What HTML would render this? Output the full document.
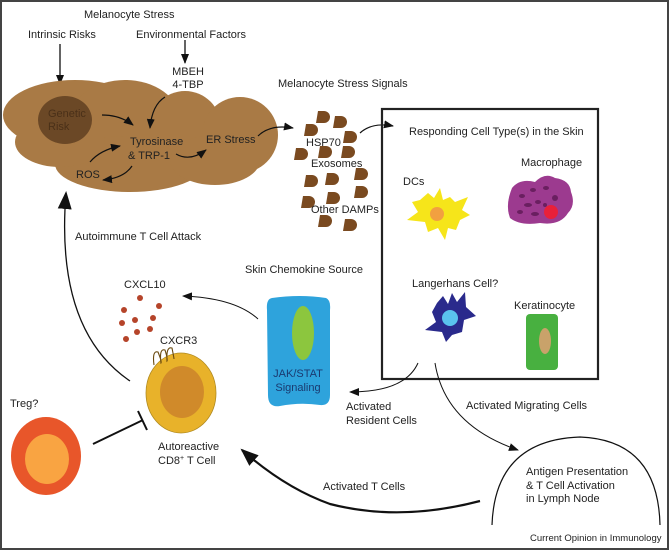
<!DOCTYPE html>
<html><head><meta charset="utf-8"><style>
html,body{margin:0;padding:0;background:#fff}
svg{display:block}
text{font-family:"Liberation Sans",sans-serif;font-size:11px;fill:#222}
</style></head><body>
<svg width="670" height="551" viewBox="0 0 670 551" xmlns="http://www.w3.org/2000/svg">
<defs>
<marker id="ah" markerWidth="10" markerHeight="8" refX="9" refY="4" orient="auto" markerUnits="userSpaceOnUse"><path d="M0,0 L10,4 L0,8 Z" fill="#111"/></marker>
<marker id="ahb" markerWidth="18" markerHeight="14" refX="16" refY="7" orient="auto" markerUnits="userSpaceOnUse"><path d="M0,0 L18,7 L0,14 Z" fill="#111"/></marker>
</defs>
<rect x="1" y="1" width="667" height="548" fill="#fff" stroke="#444" stroke-width="2"/>

<text x="84" y="18">Melanocyte Stress</text>
<text x="28" y="38">Intrinsic Risks</text>
<text x="136" y="38">Environmental Factors</text>
<line x1="60" y1="44" x2="60" y2="84" stroke="#111" stroke-width="1.3" marker-end="url(#ah)"/>
<line x1="185" y1="40" x2="185" y2="63" stroke="#111" stroke-width="1.3" marker-end="url(#ah)"/>
<text x="188" y="75" text-anchor="middle">MBEH</text>
<text x="188" y="88" text-anchor="middle">4-TBP</text>

<!-- cloud -->
<g fill="#a97a45">
<ellipse cx="75" cy="115" rx="72" ry="35"/>
<ellipse cx="125" cy="120" rx="55" ry="40"/>
<ellipse cx="185" cy="127" rx="36" ry="36"/>
<ellipse cx="240" cy="135" rx="38" ry="38"/>
<ellipse cx="130" cy="164" rx="75" ry="28"/>
<ellipse cx="215" cy="160" rx="45" ry="25"/>
<ellipse cx="60" cy="142" rx="45" ry="25"/>
</g>
<ellipse cx="65" cy="120" rx="27" ry="24" fill="#6b4826"/>
<text x="48" y="117" style="fill:#4a3018">Genetic</text>
<text x="48" y="130" style="fill:#4a3018">Risk</text>
<text x="130" y="145">Tyrosinase</text>
<text x="128" y="159">&amp; TRP-1</text>
<text x="206" y="143">ER Stress</text>
<text x="76" y="178">ROS</text>
<path d="M102,115 Q120,115 133,125" fill="none" stroke="#111" stroke-width="1.2" marker-end="url(#ah)"/>
<path d="M165,97 Q152,105 150,128" fill="none" stroke="#111" stroke-width="1.2" marker-end="url(#ah)"/>
<path d="M90,162 Q100,150 120,146" fill="none" stroke="#111" stroke-width="1.2" marker-end="url(#ah)"/>
<path d="M132,166 Q124,178 103,180" fill="none" stroke="#111" stroke-width="1.2" marker-end="url(#ah)"/>
<path d="M176,154 Q190,162 206,150" fill="none" stroke="#111" stroke-width="1.2" marker-end="url(#ah)"/>
<path d="M258,136 Q270,124 293,128" fill="none" stroke="#111" stroke-width="1.2" marker-end="url(#ah)"/>

<text x="278" y="87">Melanocyte Stress Signals</text>
<g fill="#7a4a20">
<path d="M318,111 h6 a6,6 0 0 1 0,12 h-8 z"/>
<path d="M335,116 h6 a6,6 0 0 1 0,12 h-8 z"/>
<path d="M306,124 h6 a6,6 0 0 1 0,12 h-8 z"/>
<path d="M345,131 h6 a6,6 0 0 1 0,12 h-8 z"/>
<path d="M296,148 h6 a6,6 0 0 1 0,12 h-8 z"/>
<path d="M320,146 h6 a6,6 0 0 1 0,12 h-8 z"/>
<path d="M343,146 h6 a6,6 0 0 1 0,12 h-8 z"/>
<path d="M356,168 h6 a6,6 0 0 1 0,12 h-8 z"/>
<path d="M306,175 h6 a6,6 0 0 1 0,12 h-8 z"/>
<path d="M327,173 h6 a6,6 0 0 1 0,12 h-8 z"/>
<path d="M356,186 h6 a6,6 0 0 1 0,12 h-8 z"/>
<path d="M303,196 h6 a6,6 0 0 1 0,12 h-8 z"/>
<path d="M328,192 h6 a6,6 0 0 1 0,12 h-8 z"/>
<path d="M320,215 h6 a6,6 0 0 1 0,12 h-8 z"/>
<path d="M345,219 h6 a6,6 0 0 1 0,12 h-8 z"/>
</g>
<text x="306" y="146">HSP70</text>
<text x="311" y="167">Exosomes</text>
<text x="311" y="213">Other DAMPs</text>
<path d="M360,133 Q372,122 393,126" fill="none" stroke="#111" stroke-width="1.2" marker-end="url(#ah)"/>

<!-- box -->
<rect x="382" y="109" width="216" height="270" fill="none" stroke="#222" stroke-width="2.2"/>
<text x="409" y="135">Responding Cell Type(s) in the Skin</text>
<text x="403" y="185">DCs</text>
<path d="M420,200 L428,193 L434,198 L440,188 L443,200 L450,197 L455,202 L468,197 L462,210 L470,215 L460,220 L456,230 L448,228 L445,240 L438,228 L428,232 L425,222 L407,220 L418,212 L412,202 Z" fill="#f6e51a"/>
<circle cx="437" cy="214" r="7" fill="#f2a040"/>
<text x="521" y="166">Macrophage</text>
<path d="M512,188 Q520,178 535,182 Q545,172 555,178 Q570,180 571,192 Q576,205 568,213 Q560,226 540,223 Q520,226 510,218 Q505,205 512,188 Z" fill="#9c3a8f"/>
<g fill="#6a1f60"><ellipse cx="522" cy="196" rx="3" ry="2"/><ellipse cx="533" cy="190" rx="3" ry="2"/><ellipse cx="546" cy="188" rx="3" ry="2"/><ellipse cx="528" cy="205" rx="4" ry="2"/><ellipse cx="538" cy="202" rx="3" ry="2"/><ellipse cx="555" cy="198" rx="3" ry="3"/><ellipse cx="520" cy="212" rx="3" ry="2"/><ellipse cx="535" cy="214" rx="4" ry="2"/><ellipse cx="545" cy="205" rx="2" ry="2"/></g>
<circle cx="551" cy="212" r="7" fill="#e8203a"/>
<text x="412" y="287">Langerhans Cell?</text>
<path d="M437,303 L443,296 L448,304 L452,293 L457,302 L465,292 L466,307 L476,316 L464,320 L462,332 L452,335 L446,342 L442,332 L425,330 L436,322 L432,312 Z" fill="#2a2a8c"/>
<circle cx="450" cy="318" r="8" fill="#5ac3ee"/>
<text x="514" y="309">Keratinocyte</text>
<rect x="526" y="314" width="32" height="56" rx="4" fill="#48b040"/>
<ellipse cx="545" cy="341" rx="6" ry="13" fill="#c9a26a"/>

<!-- JAK/STAT -->
<text x="245" y="273">Skin Chemokine Source</text>
<path d="M272,298 Q300,294 326,298 Q331,300 330,310 L330,395 Q330,406 320,405 Q300,402 280,406 Q268,408 268,395 L267,310 Q266,299 272,298 Z" fill="#2ea3dc"/>
<ellipse cx="303" cy="333" rx="11" ry="27" fill="#8cc63e"/>
<text x="298" y="377" text-anchor="middle" style="fill:#1a3a70">JAK/STAT</text>
<text x="298" y="391" text-anchor="middle" style="fill:#1a3a70">Signaling</text>
<path d="M258,319 Q235,298 183,296" fill="none" stroke="#111" stroke-width="1" marker-end="url(#ah)"/>

<text x="124" y="288">CXCL10</text>
<g fill="#b5442a"><circle cx="140" cy="298" r="3"/><circle cx="159" cy="306" r="3"/><circle cx="124" cy="310" r="3"/><circle cx="135" cy="320" r="3"/><circle cx="153" cy="318" r="3"/><circle cx="122" cy="323" r="3"/><circle cx="137" cy="332" r="3"/><circle cx="150" cy="329" r="3"/><circle cx="126" cy="339" r="3"/></g>
<text x="160" y="344">CXCR3</text>
<ellipse cx="181" cy="393" rx="35" ry="40" fill="#e8b22a" stroke="#b08a20" stroke-width="0.8"/>
<ellipse cx="182" cy="392" rx="22" ry="26" fill="#d08a2a"/>
<path d="M154,365 Q152,350 158,352 Q162,362 161,363 Q159,348 165,350 Q168,360 167,361 Q166,346 172,348 Q174,358 174,359" fill="none" stroke="#6a4a10" stroke-width="1.1"/>

<path d="M130,381 Q55,330 66,193" fill="none" stroke="#111" stroke-width="1.3" marker-end="url(#ahb)"/>
<text x="75" y="240">Autoimmune T Cell Attack</text>

<text x="10" y="407">Treg?</text>
<ellipse cx="46" cy="456" rx="35" ry="39" fill="#e8562a"/>
<ellipse cx="47" cy="459" rx="22" ry="25" fill="#f9a442"/>
<line x1="93" y1="444" x2="143" y2="420" stroke="#111" stroke-width="2"/>
<line x1="138" y1="411" x2="147" y2="430" stroke="#111" stroke-width="2"/>
<text x="158" y="450">Autoreactive</text>
<text x="158" y="464">CD8<tspan dy="-4" style="font-size:7px">+</tspan><tspan dy="4">  T Cell</tspan></text>

<path d="M418,363 Q405,392 350,392" fill="none" stroke="#111" stroke-width="1" marker-end="url(#ah)"/>
<text x="346" y="410">Activated</text>
<text x="346" y="424">Resident Cells</text>
<path d="M435,363 Q445,425 518,450" fill="none" stroke="#111" stroke-width="1" marker-end="url(#ah)"/>
<text x="466" y="409">Activated Migrating Cells</text>

<path d="M492,525 Q495,440 580,437 Q658,440 660,525" fill="none" stroke="#111" stroke-width="1.2"/>
<text x="526" y="475">Antigen Presentation</text>
<text x="526" y="489">&amp; T Cell Activation</text>
<text x="526" y="502">in Lymph Node</text>

<path d="M480,501 Q400,522 330,504 Q285,488 242,450" fill="none" stroke="#111" stroke-width="2.2" marker-end="url(#ahb)"/>
<text x="323" y="490">Activated T Cells</text>

<text x="530" y="541" style="font-size:9.5px">Current Opinion in Immunology</text>
</svg>
</body></html>
